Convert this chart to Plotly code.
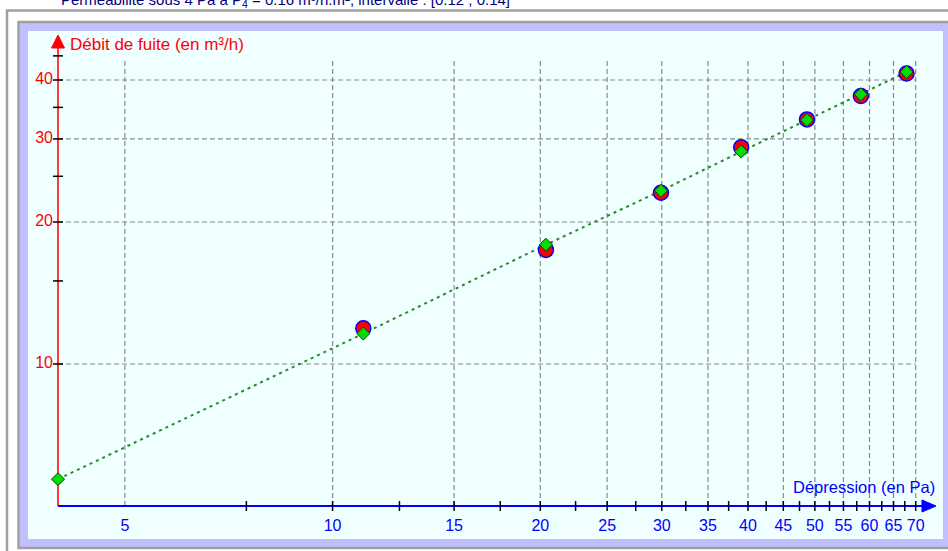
import math
import plotly.graph_objects as go

# ---------------- data ----------------
depression_pa = [11.08, 20.38, 29.92, 39.1, 48.7, 58.3, 67.9]          # measured x
debit_mesure = [11.9, 17.45, 23.07, 28.8, 33.0, 37.0, 41.3]             # measured flow (red)
fit_x = [4, 11.08, 20.38, 29.92, 39.1, 48.7, 58.3, 67.9]                # fitted curve x
fit_y = [5.7, 11.6, 17.9, 23.3, 28.2, 32.9, 37.3, 41.6]                 # fitted curve y (green)

x_label_vals = [5, 10, 15, 20, 25, 30, 35, 40, 45, 50, 55, 60, 65, 70]
x_tick_vals = [7.5, 10, 12.5, 15, 17.5, 20, 22.5, 25, 27.5, 30, 32.5, 35, 37.5,
               40, 42.5, 45, 47.5, 50, 52.5, 55, 57.5, 60, 62.5, 65, 67.5, 70]
y_label_vals = [10, 20, 30, 40]
y_tick_vals = [10, 15, 20, 25, 30, 35, 40, 45]
x_grid_vals = x_label_vals
y_grid_vals = y_label_vals

title_text = "Perméabilité sous 4 Pa à P<sub>4</sub> = 0.16 m³/h.m², intervalle : [0.12 , 0.14]"
y_title = "Débit de fuite (en m³/h)"
x_title = "Dépression (en Pa)"

# ---------------- geometry (pixels) ----------------
W, H = 948, 551
PL, PR, PT, PB = 28, 943, 31, 539        # plot area (azure)
AX0, AY0 = 58, 506                       # axis origin pixel
X_MIN, Y_MIN = 4, 5                      # value at origin
XDEC, YDEC = 690.0, 471.7                # pixels per decade

X_LO = math.log10(X_MIN) - (AX0 - PL) / XDEC
X_HI = X_LO + (PR - PL) / XDEC
Y_LO = math.log10(Y_MIN) - (PB - AY0) / YDEC
Y_HI = Y_LO + (PB - PT) / YDEC


def xv(px):
    return 10 ** (X_LO + (px - PL) / XDEC)


def yv(py):
    return 10 ** (Y_LO + (PB - py) / YDEC)


def xp(px):
    return (px - PL) / (PR - PL)


def yp(py):
    return (PB - py) / (PB - PT)


FONT = "Liberation Sans, Arial, sans-serif"
fig = go.Figure()

# grid
gx, gy = [], []
for v in x_grid_vals:
    gx += [v, v, None]
    gy += [Y_MIN, 44.2, None]
for v in y_grid_vals:
    gx += [X_MIN, 70, None]
    gy += [v, v, None]
fig.add_trace(go.Scatter(x=gx, y=gy, mode="lines", hoverinfo="skip",
                         line=dict(color="#8a8a8a", width=1.2, dash="5px,3px")))

# axis lines
fig.add_trace(go.Scatter(x=[X_MIN, X_MIN], y=[Y_MIN, yv(47)], mode="lines", hoverinfo="skip",
                         line=dict(color="#ff3b3b", width=2)))
fig.add_trace(go.Scatter(x=[X_MIN, xv(924)], y=[Y_MIN, Y_MIN], mode="lines", hoverinfo="skip",
                         line=dict(color="#0000ff", width=2)))
# arrows
fig.add_trace(go.Scatter(x=[xv(51.5), xv(64.5), X_MIN, xv(51.5)],
                         y=[yv(48), yv(48), yv(35), yv(48)],
                         mode="lines", fill="toself", fillcolor="#ff0000", hoverinfo="skip",
                         line=dict(color="#ff0000", width=1)))
fig.add_trace(go.Scatter(x=[xv(922), xv(922), xv(936), xv(922)],
                         y=[yv(500), yv(512), Y_MIN, yv(500)],
                         mode="lines", fill="toself", fillcolor="#0000ff", hoverinfo="skip",
                         line=dict(color="#0000ff", width=1)))

# ticks
tx, ty = [], []
for v in y_tick_vals:
    tx += [xv(AX0 - 5), xv(AX0 + 5), None]
    ty += [v, v, None]
for v in x_tick_vals:
    tx += [v, v, None]
    ty += [yv(AY0 - 5), yv(AY0 + 5), None]
fig.add_trace(go.Scatter(x=tx, y=ty, mode="lines", hoverinfo="skip",
                         line=dict(color="#000000", width=1.5)))

# fit line
fig.add_trace(go.Scatter(x=fit_x, y=fit_y, mode="lines", hoverinfo="skip",
                         line=dict(color="#2a8a2a", width=2, dash="3px,4px")))
# measured points
fig.add_trace(go.Scatter(x=depression_pa, y=debit_mesure, mode="markers",
                         marker=dict(symbol="circle", size=15, color="#ff0000",
                                     line=dict(color="#0000ff", width=1.5))))
# fitted points
fig.add_trace(go.Scatter(x=fit_x, y=fit_y, mode="markers",
                         marker=dict(symbol="diamond", size=10, color="#00dd00",
                                     line=dict(color="#104010", width=1))))

# tick labels
fig.add_trace(go.Scatter(x=x_label_vals, y=[yv(527)] * len(x_label_vals), mode="text",
                         text=[str(v) for v in x_label_vals], textposition="middle center",
                         hoverinfo="skip", cliponaxis=False,
                         textfont=dict(family=FONT, size=16, color="#0000ff")))
fig.add_trace(go.Scatter(x=[xv(AX0 - 5)] * len(y_label_vals), y=y_label_vals, mode="text",
                         text=[str(v) for v in y_label_vals], textposition="middle left",
                         hoverinfo="skip", cliponaxis=False,
                         textfont=dict(family=FONT, size=16, color="#ff0000")))

# frame shapes (paper coords)
shapes = []
shapes.append(dict(type="rect", xref="paper", yref="paper", x0=xp(7), x1=xp(960), y0=yp(570), y1=yp(10.5),
                   line=dict(color="#a0a0a0", width=2.5), fillcolor="#ffffff", layer="below"))
shapes.append(dict(type="rect", xref="paper", yref="paper", x0=xp(18.5), x1=xp(960), y0=yp(548), y1=yp(22),
                   line=dict(color="#a0a0a0", width=2.5), fillcolor="#c0c0ff", layer="below"))
shapes.append(dict(type="rect", xref="paper", yref="paper", x0=xp(PL), x1=xp(PR), y0=yp(PB), y1=yp(PT),
                   line=dict(width=0), fillcolor="#f0ffff", layer="below"))

annotations = [
    dict(xref="paper", yref="paper", x=xp(512), y=yp(0), xanchor="right", yanchor="middle",
         text=title_text, showarrow=False, font=dict(family=FONT, size=15, color="#000080")),
    dict(xref="paper", yref="paper", x=xp(68), y=yp(45), xanchor="left", yanchor="middle",
         text=y_title, showarrow=False, font=dict(family=FONT, size=17, color="#ff0000")),
    dict(xref="paper", yref="paper", x=xp(937), y=yp(487), xanchor="right", yanchor="middle",
         text=x_title, showarrow=False, font=dict(family=FONT, size=16.5, color="#0000ff")),
]

fig.update_layout(
    width=W, height=H, autosize=False,
    margin=dict(l=PL, r=W - PR, t=PT, b=H - PB, pad=0),
    paper_bgcolor="#ffffff", plot_bgcolor="rgba(0,0,0,0)",
    showlegend=False,
    shapes=shapes, annotations=annotations,
    xaxis=dict(type="log", range=[X_LO, X_HI], visible=False, fixedrange=True),
    yaxis=dict(type="log", range=[Y_LO, Y_HI], visible=False, fixedrange=True),
)

fig.write_html("out.html", config={"displayModeBar": False},
               post_script="document.body.style.margin='0';document.body.style.padding='0';"
                           "document.body.style.overflow='hidden';")
